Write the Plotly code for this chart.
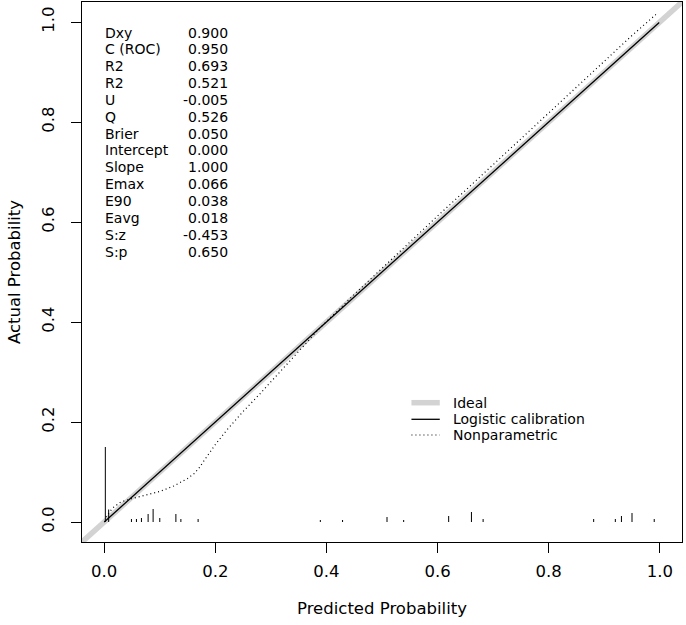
import plotly.graph_objects as go

# ---------------- data ----------------
ideal_x = [-0.1, 1.1]
ideal_y = [-0.1, 1.1]

logistic_x = [0.0, 0.999]
logistic_y = [0.0, 0.999]

nonpar_x = [0.003, 0.015, 0.03, 0.05, 0.075, 0.10, 0.125, 0.15, 0.162, 0.17, 0.18,
            0.20, 0.22, 0.25, 0.28, 0.30, 0.33, 0.36, 0.39, 0.45, 0.50, 0.55, 0.60,
            0.65, 0.70, 0.75, 0.80, 0.85, 0.90, 0.95, 0.993]
nonpar_y = [0.010, 0.028, 0.040, 0.047, 0.054, 0.061, 0.072, 0.087, 0.097, 0.107, 0.123,
            0.155, 0.183, 0.221, 0.256, 0.280, 0.318, 0.354, 0.390, 0.455, 0.508, 0.560,
            0.612, 0.663, 0.715, 0.767, 0.818, 0.870, 0.922, 0.973, 1.015]

# distribution of predicted probabilities (spikes)
rug_x = [0.002, 0.008, 0.049, 0.058, 0.067, 0.079, 0.088, 0.100, 0.129, 0.138, 0.169,
         0.389, 0.429, 0.509, 0.539, 0.620, 0.661, 0.682, 0.881, 0.920, 0.931, 0.950, 0.990]
rug_h = [0.150, 0.025, 0.006, 0.006, 0.008, 0.016, 0.026, 0.008, 0.016, 0.006, 0.006,
         0.004, 0.004, 0.010, 0.004, 0.012, 0.020, 0.006, 0.006, 0.006, 0.012, 0.018, 0.006]

stat_names = ["Dxy", "C (ROC)", "R2", "R2", "U", "Q", "Brier", "Intercept", "Slope",
              "Emax", "E90", "Eavg", "S:z", "S:p"]
stat_values = ["0.900", "0.950", "0.693", "0.521", "-0.005", "0.526", "0.050", "0.000",
               "1.000", "0.066", "0.038", "0.018", "-0.453", "0.650"]

legend_names = ["Ideal", "Logistic calibration", "Nonparametric"]

x_ticks = [0.0, 0.2, 0.4, 0.6, 0.8, 1.0]
y_ticks = [0.0, 0.2, 0.4, 0.6, 0.8, 1.0]

# ---------------- figure ----------------
FONT = "DejaVu Sans"
fig = go.Figure()

ideal_style = dict(color="#d3d3d3", width=5.5)
logit_style = dict(color="black", width=1.3)
nonpar_style = dict(color="black", width=1.2, dash="1px,3px")

fig.add_trace(go.Scatter(x=ideal_x, y=ideal_y, mode="lines", line=ideal_style,
                         name=legend_names[0], showlegend=False, hoverinfo="skip"))

# spikes
sx, sy = [], []
for xv, hv in zip(rug_x, rug_h):
    sx += [xv, xv, None]
    sy += [0.0, hv, None]
fig.add_trace(go.Scatter(x=sx, y=sy, mode="lines", line=dict(color="black", width=1),
                         showlegend=False, hoverinfo="skip"))

fig.add_trace(go.Scatter(x=logistic_x, y=logistic_y, mode="lines", line=logit_style,
                         name=legend_names[1], showlegend=False))
fig.add_trace(go.Scatter(x=nonpar_x, y=nonpar_y, mode="lines", line=nonpar_style,
                         name=legend_names[2], showlegend=False))

annotations = []
# statistics block
y0, dy = 0.979, 0.0337
for i, (nm, vl) in enumerate(zip(stat_names, stat_values)):
    yy = y0 - i * dy
    annotations.append(dict(x=-0.002, y=yy, xref="x", yref="y", text=nm, showarrow=False,
                            xanchor="left", yanchor="middle",
                            font=dict(family=FONT, size=14, color="black")))
    annotations.append(dict(x=0.226, y=yy, xref="x", yref="y", text=vl, showarrow=False,
                            xanchor="right", yanchor="middle",
                            font=dict(family=FONT, size=14, color="black")))

# manual legend
leg_y = [0.2386, 0.2054, 0.174]
leg_styles = [ideal_style, logit_style, nonpar_style]
shapes = []
for nm, yy, st in zip(legend_names, leg_y, leg_styles):
    shapes.append(dict(type="line", xref="x", yref="y", x0=0.553, x1=0.604, y0=yy, y1=yy,
                       line=st))
    annotations.append(dict(x=0.625, y=yy, xref="x", yref="y", text=nm, showarrow=False,
                            xanchor="left", yanchor="middle",
                            font=dict(family=FONT, size=14, color="black")))

axis_common = dict(
    showgrid=False, zeroline=False, showline=True, linecolor="black", linewidth=1,
    mirror=True, ticks="outside", ticklen=10, tickwidth=1, tickcolor="black",
    tickformat=".1f", tickfont=dict(family=FONT, size=16.5, color="black"),
)

fig.update_layout(
    width=686, height=625,
    margin=dict(l=82, r=4, t=2, b=83),
    paper_bgcolor="white", plot_bgcolor="white",
    font=dict(family=FONT, color="black"),
    showlegend=False,
    xaxis=dict(range=[-0.04, 1.04], tickvals=x_ticks,
               title=dict(text="Predicted Probability", font=dict(family=FONT, size=16.5),
                          standoff=22),
               ticklabelstandoff=4, **axis_common),
    yaxis=dict(range=[-0.04, 1.04], tickvals=y_ticks, tickangle=-90,
               title=dict(text="Actual Probability", font=dict(family=FONT, size=16.5),
                          standoff=14),
               ticklabelstandoff=10, **axis_common),
    annotations=annotations,
    shapes=shapes,
)

fig.write_html("out.html")
